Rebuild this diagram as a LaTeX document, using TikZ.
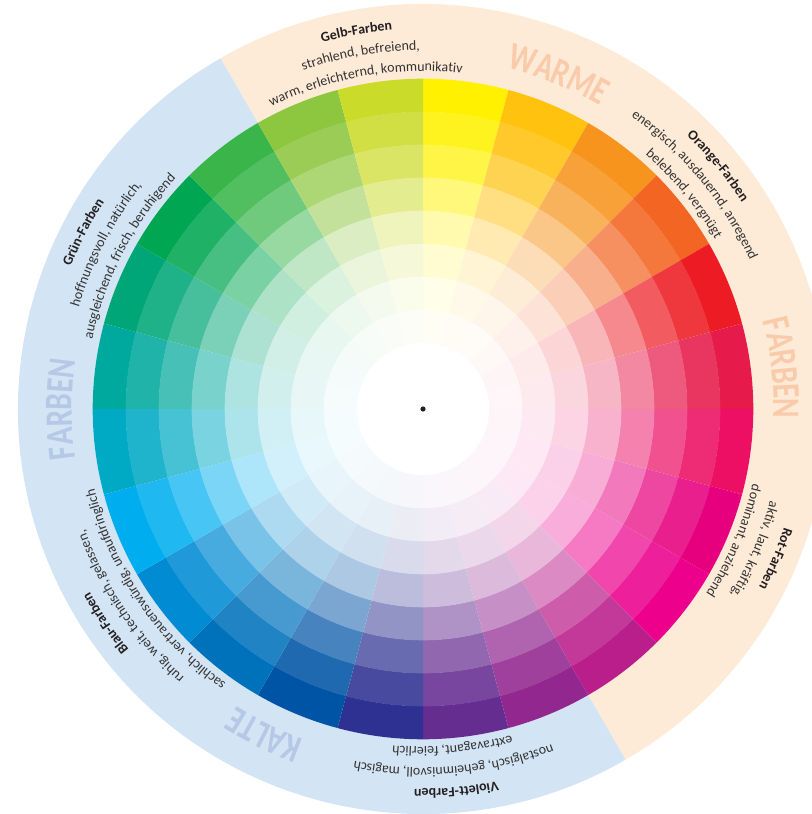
\documentclass[tikz,border=0pt]{standalone}
\usepackage{fontspec}
\setmainfont{Carlito}
\newfontfamily\labelfont[FakeStretch=0.76]{Carlito}
\usepackage{tikz}
\usetikzlibrary{decorations.text}
\definecolor{SunYellow}{HTML}{FFF100}
\definecolor{GoldYellow}{HTML}{FFC20E}
\definecolor{Tangerine}{HTML}{F7941D}
\definecolor{Vermilion}{HTML}{F26522}
\definecolor{SignalRed}{HTML}{ED1C24}
\definecolor{Crimson}{HTML}{E61A4B}
\definecolor{Raspberry}{HTML}{EC0F63}
\definecolor{Cerise}{HTML}{E6007E}
\definecolor{HotMagenta}{HTML}{EC008C}
\definecolor{Fuchsia}{HTML}{BA1E8B}
\definecolor{Plum}{HTML}{92278F}
\definecolor{Violet}{HTML}{662D91}
\definecolor{Indigo}{HTML}{2E3192}
\definecolor{Cobalt}{HTML}{0054A6}
\definecolor{RoyalBlue}{HTML}{0072BC}
\definecolor{SkyBlue}{HTML}{008BD2}
\definecolor{BrightCyan}{HTML}{00AEEF}
\definecolor{Turquoise}{HTML}{00AAC5}
\definecolor{Teal}{HTML}{00A99D}
\definecolor{SeaGreen}{HTML}{00A677}
\definecolor{Emerald}{HTML}{00A651}
\definecolor{LeafGreen}{HTML}{39B54A}
\definecolor{LimeGreen}{HTML}{8DC63F}
\definecolor{YellowGreen}{HTML}{CBDB2A}
\definecolor{WarmBand}{HTML}{FDEAD7}
\definecolor{ColdBand}{HTML}{D3E4F4}
\definecolor{WarmLabel}{HTML}{F9CBAA}
\definecolor{ColdLabel}{HTML}{B5C9E7}
\definecolor{InkBlack}{HTML}{231F20}
\definecolor{InkGray}{HTML}{333333}
\newcommand{\headfont}{\fontsize{14}{16}\selectfont\bfseries}
\newcommand{\bodyfont}{\fontsize{14}{16}\selectfont}
\newcommand{\bandfont}{\labelfont\fontsize{39}{40}\selectfont\bfseries}
% text set clockwise along an arc round the hub
\newcommand{\ringtext}[5]{%
  \path[decorate, decoration={text along path, text align=center,
        text color=#4, text={|#3|#5}}]
    ({#1+50}:#2bp) arc[start angle={#1+50}, end angle={#1-50}, radius=#2bp];}

\begin{document}
\begin{tikzpicture}[x=1bp, y=1bp]
    \clip (-423,-405) rectangle (389,409);
    \coordinate (hub) at (0,0);
    % warm and cold bands
    \fill[WarmBand] (hub) -- (120:405bp) arc[start angle=120, end angle=-60, radius=405bp] -- cycle;
    \fill[ColdBand] (hub) -- (-60:405bp) arc[start angle=-60, end angle=-240, radius=405bp] -- cycle;
    \fill[white] (hub) circle[radius=330bp];
    % the wheel, 24 hues in 8 tints
    \foreach \hue [count=\i from 0] in {SunYellow, GoldYellow, Tangerine, Vermilion,
            SignalRed, Crimson, Raspberry, Cerise, HotMagenta, Fuchsia, Plum, Violet,
            Indigo, Cobalt, RoyalBlue, SkyBlue, BrightCyan, Turquoise, Teal, SeaGreen,
            Emerald, LeafGreen, LimeGreen, YellowGreen}{
        \foreach \tint [count=\k from 0] in {100,88,72,52,32,18,9,4}{
            \pgfmathsetmacro{\ro}{330.3-33*\k}
            \pgfmathsetmacro{\ri}{297-33*\k}
            \fill[\hue!\tint] ({90-15*\i}:\ro bp)
                arc[start angle={90-15*\i}, end angle={75-15*\i}, radius=\ro bp]
                -- ({75-15*\i}:\ri bp)
                arc[start angle={75-15*\i}, end angle={90-15*\i}, radius=\ri bp] -- cycle;
        }
    }
    \fill[white] (hub) circle[radius=66bp];
    \fill[InkBlack] (hub) circle[radius=2.6bp];
    % band labels
    \ringtext{68}{351}{\bandfont}{WarmLabel}{WARME}
    \ringtext{6.5}{351}{\bandfont}{WarmLabel}{FARBEN}
    \ringtext{180}{351}{\bandfont}{ColdLabel}{FARBEN}
    \ringtext{-116}{351}{\bandfont}{ColdLabel}{KALTE}
    % Gelb
    \ringtext{100}{380}{\headfont}{InkBlack}{Gelb-Farben}
    \ringtext{100}{359}{\bodyfont}{InkGray}{strahlend, befreiend,}
    \ringtext{100}{338}{\bodyfont}{InkGray}{warm, erleichternd, kommunikativ}
    % Orange
    \ringtext{39.5}{380}{\headfont}{InkBlack}{Orange-Farben}
    \ringtext{39.5}{359}{\bodyfont}{InkGray}{energisch, ausdauernd, anregend}
    \ringtext{39.5}{338}{\bodyfont}{InkGray}{belebend, vergnügt}
    % Rot
    \ringtext{-23}{380}{\headfont}{InkBlack}{Rot-Farben}
    \ringtext{-23}{359}{\bodyfont}{InkGray}{aktiv, laut, kräftig,}
    \ringtext{-23}{338}{\bodyfont}{InkGray}{dominant, anziehend}
    % Violett
    \ringtext{-85}{380}{\headfont}{InkBlack}{Violett-Farben}
    \ringtext{-85}{359}{\bodyfont}{InkGray}{nostalgisch, geheimnisvoll, magisch}
    \ringtext{-85}{338}{\bodyfont}{InkGray}{extravagant, feierlich}
    % Blau
    \ringtext{-146}{380}{\headfont}{InkBlack}{Blau-Farben}
    \ringtext{-146}{359}{\bodyfont}{InkGray}{ruhig, weit, technisch, gelassen,}
    \ringtext{-146}{338}{\bodyfont}{InkGray}{sachlich, vertrauenswürdig, unaufdringlich}
    % Gruen
    \ringtext{152.5}{380}{\headfont}{InkBlack}{Grün-Farben}
    \ringtext{152.5}{359}{\bodyfont}{InkGray}{hoffnungsvoll, natürlich,}
    \ringtext{152.5}{338}{\bodyfont}{InkGray}{ausgleichend, frisch, beruhigend}
\end{tikzpicture}
\end{document}
